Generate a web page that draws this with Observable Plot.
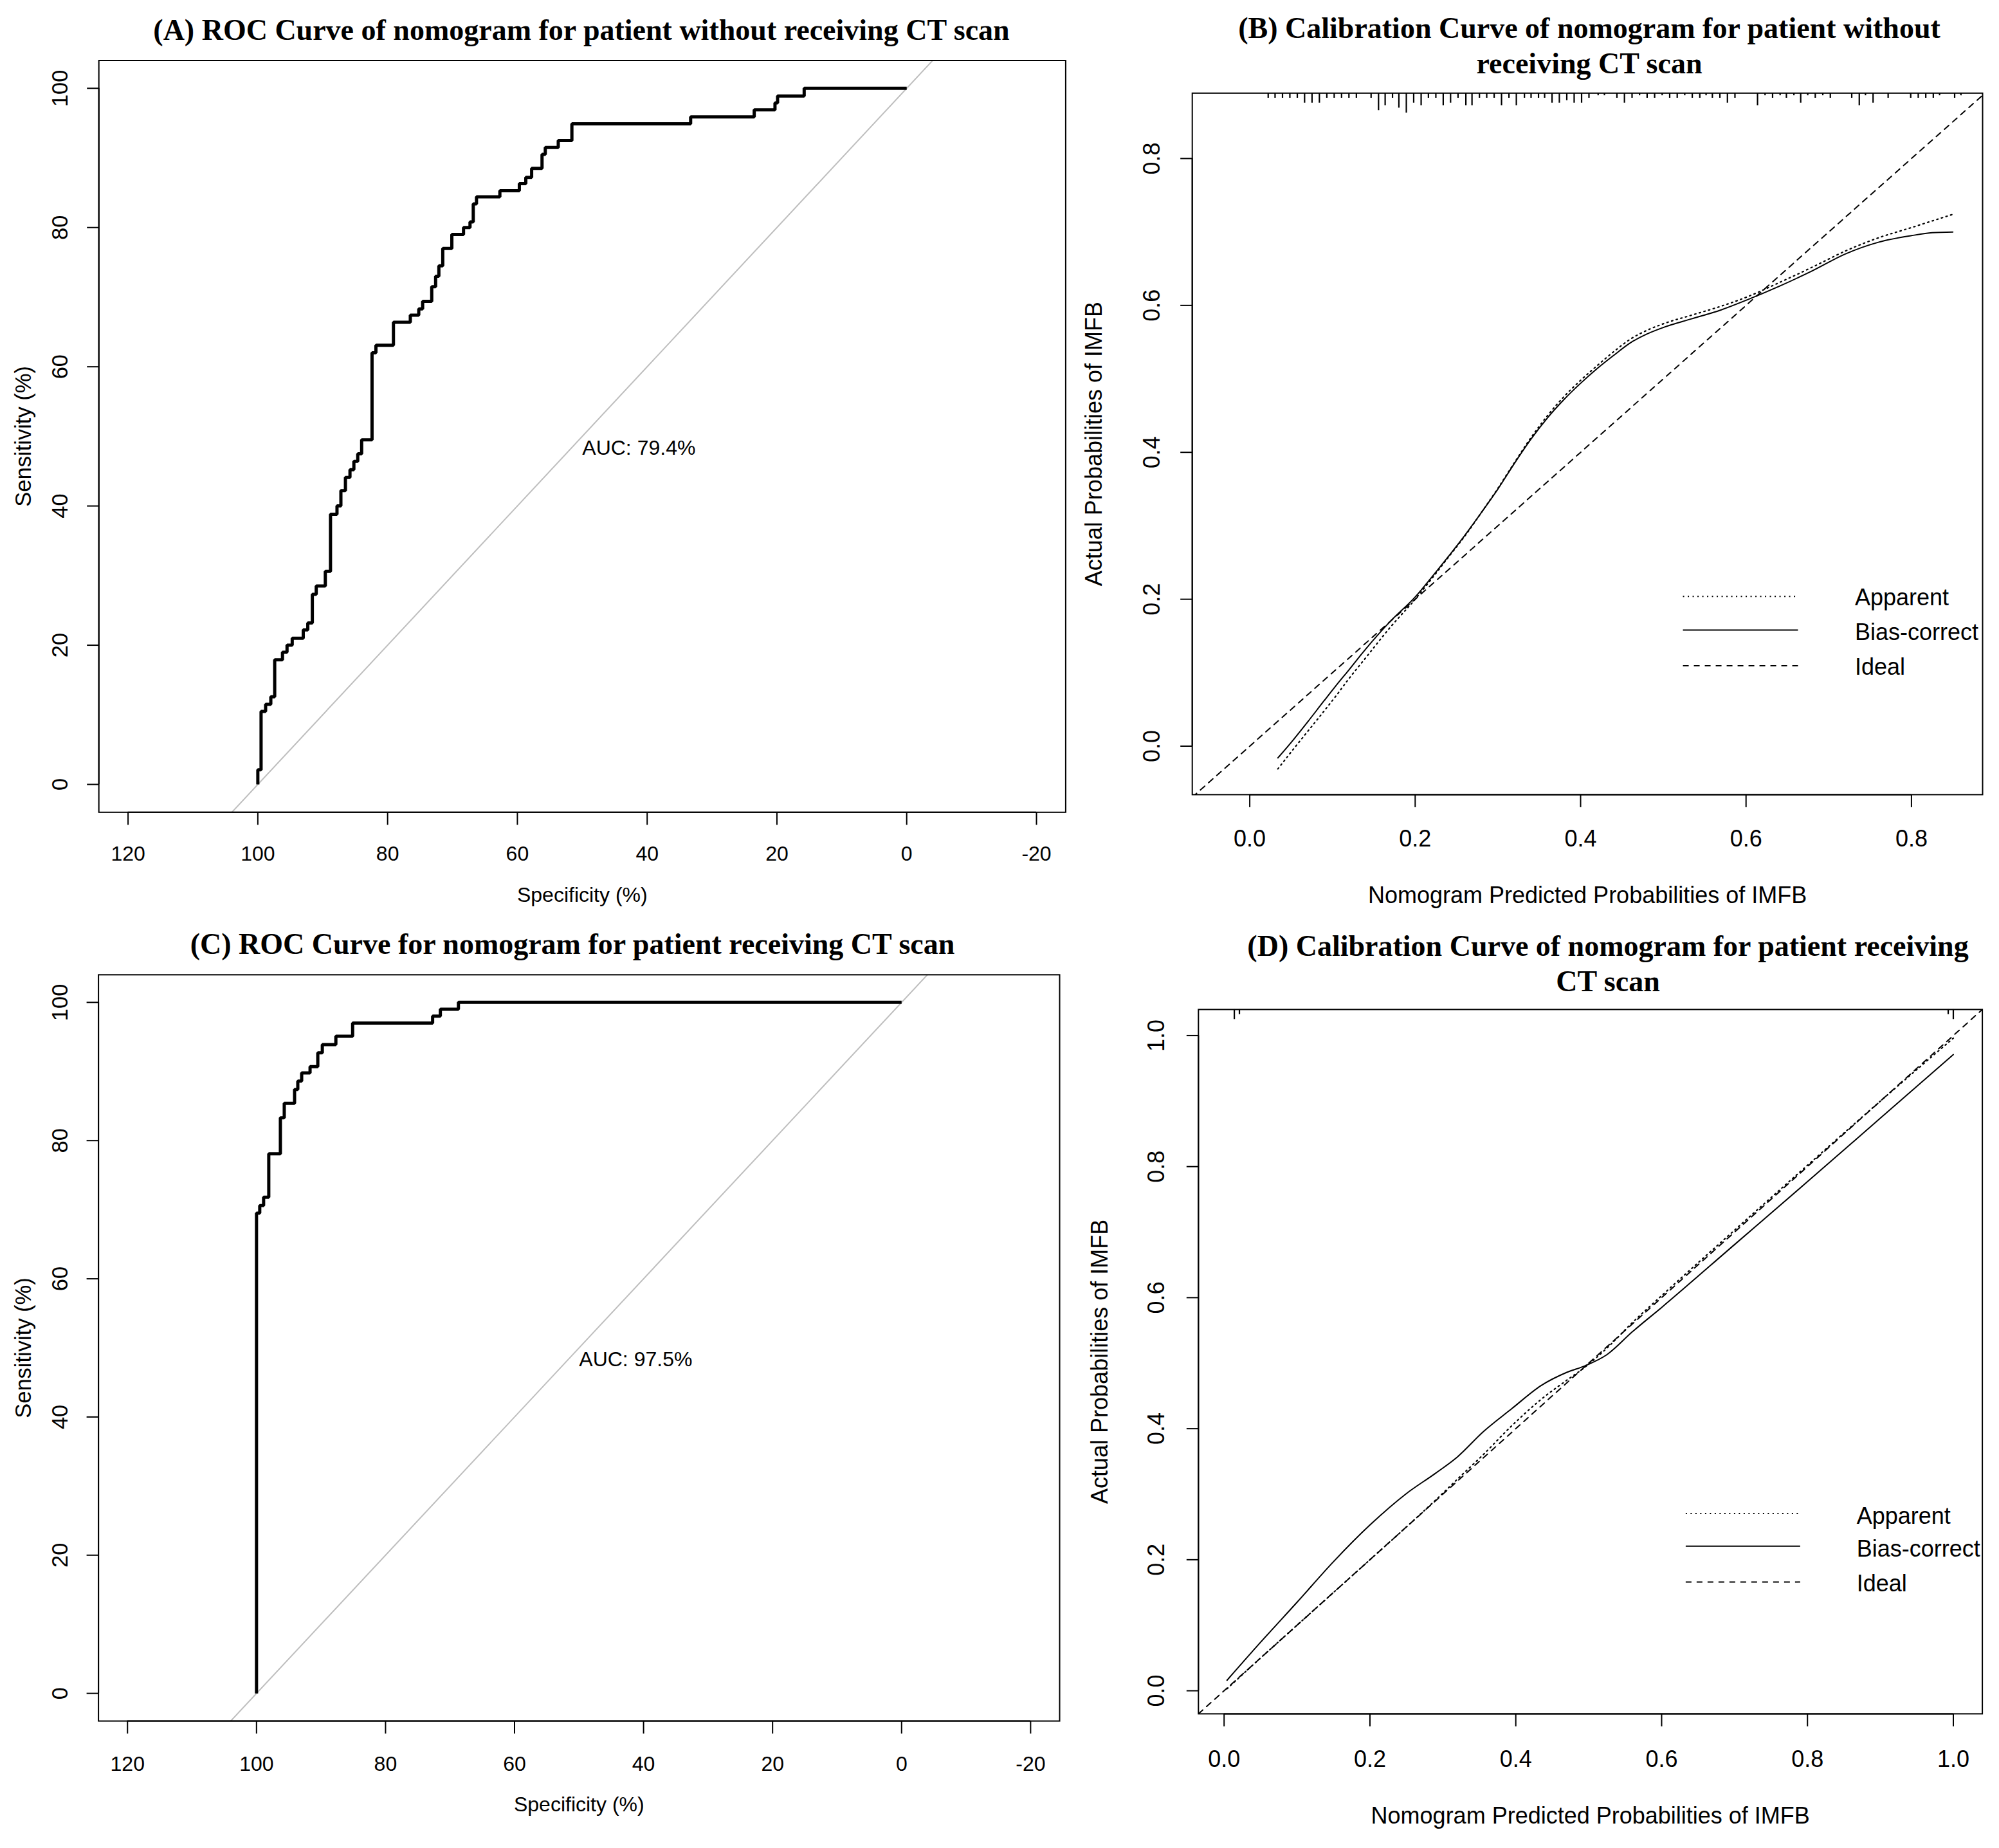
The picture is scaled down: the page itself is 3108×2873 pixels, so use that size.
<!DOCTYPE html>
<html><head><meta charset="utf-8">
<script src="https://cdn.jsdelivr.net/npm/d3@7"></script>
<script src="https://cdn.jsdelivr.net/npm/@observablehq/plot@0.6"></script>
<style>
html,body{margin:0;padding:0;background:#fff;}
#root{position:relative;width:3108px;height:2873px;background:#fff;overflow:hidden;}
.panel{position:absolute;}
.title{position:absolute;width:1700px;font-family:"Liberation Serif","Times New Roman",serif;font-weight:bold;font-size:46px;line-height:55px;text-align:center;color:#000;white-space:nowrap;}
</style></head><body><div id="root"></div><script>
// ---------- data ----------
const titleA = "(A) ROC Curve of nomogram for patient without receiving CT scan";
const titleB = ["(B) Calibration Curve of nomogram for patient without", "receiving CT scan"];
const titleC = "(C) ROC Curve for nomogram for patient receiving CT scan";
const titleD = ["(D) Calibration Curve of nomogram for patient receiving", "CT scan"];
const rocXLabel = "Specificity (%)";
const rocYLabel = "Sensitivity (%)";
const calXLabel = "Nomogram Predicted Probabilities of IMFB";
const calYLabel = "Actual Probabilities of IMFB";
const legendLabels = ["Apparent", "Bias-correct", "Ideal"];
const aucA = "AUC: 79.4%";
const aucC = "AUC: 97.5%";

const rocXTicks = [120, 100, 80, 60, 40, 20, 0, -20];
const rocYTicks = [0, 20, 40, 60, 80, 100];
const calBTicks = [0, 0.2, 0.4, 0.6, 0.8];
const calDTicks = [0, 0.2, 0.4, 0.6, 0.8, 1.0];

// ROC (A): specificity at each vertical step, sensitivity at top of that step
const rocASpec = [100, 100, 99.5, 98.8, 98.0, 97.4, 96.2, 95.5, 94.7, 93.0, 92.3, 91.6, 91.0, 89.6, 88.8, 87.8, 87.2, 86.5, 85.8, 85.2, 84.6, 84.0, 82.4, 81.8, 79.1, 76.5, 75.2, 74.6, 73.2, 72.6, 72.1, 71.5, 70.1, 68.3, 67.3, 66.8, 66.3, 62.7, 59.7, 58.7, 57.8, 56.2, 55.7, 53.7, 51.6, 33.3, 23.5, 20.3, 19.9, 15.8, 0];
const rocASens = [0, 2.1, 10.5, 11.5, 12.6, 17.9, 19.0, 20.0, 21.0, 22.2, 23.2, 27.3, 28.5, 30.6, 38.8, 40.0, 42.2, 44.1, 45.2, 46.4, 47.5, 49.5, 62.0, 63.1, 66.4, 67.4, 68.3, 69.4, 71.5, 73.0, 74.5, 77.0, 79.0, 80.0, 80.8, 83.4, 84.4, 85.3, 86.3, 87.2, 88.5, 90.5, 91.5, 92.5, 94.9, 95.9, 96.9, 97.9, 98.9, 100, 100];

// ROC (C)
const rocCSpec = [100, 100, 99.5, 98.9, 98.1, 96.3, 95.7, 94.1, 93.6, 93.0, 91.7, 90.5, 89.8, 87.7, 85.1, 72.7, 71.5, 68.7, 0];
const rocCSens = [0, 69.5, 70.6, 71.8, 78.1, 83.3, 85.4, 87.4, 88.6, 89.8, 90.7, 92.7, 93.9, 95.1, 97.0, 98.0, 99.0, 100, 100];

// Calibration (B)
const calBX = [0.034, 0.05, 0.07, 0.09, 0.104, 0.12, 0.14, 0.17, 0.2, 0.22, 0.24, 0.26, 0.28, 0.3, 0.32, 0.34, 0.36, 0.38, 0.4, 0.42, 0.44, 0.46, 0.48, 0.5, 0.535, 0.57, 0.6, 0.64, 0.68, 0.72, 0.76, 0.8, 0.825, 0.85];
const calBApparent = [-0.031, -0.008, 0.02, 0.048, 0.068, 0.092, 0.12, 0.162, 0.2, 0.228, 0.257, 0.286, 0.318, 0.351, 0.386, 0.42, 0.45, 0.476, 0.498, 0.518, 0.537, 0.554, 0.566, 0.575, 0.587, 0.599, 0.611, 0.631, 0.652, 0.674, 0.692, 0.706, 0.715, 0.724];
const calBBias = [-0.016, 0.005, 0.033, 0.062, 0.082, 0.104, 0.132, 0.170, 0.203, 0.23, 0.258, 0.287, 0.318, 0.35, 0.385, 0.418, 0.447, 0.472, 0.494, 0.514, 0.532, 0.549, 0.561, 0.570, 0.582, 0.594, 0.607, 0.626, 0.647, 0.670, 0.686, 0.695, 0.699, 0.700];
const rugBX = [0.0223, 0.0306, 0.0396, 0.0485, 0.0575, 0.0663, 0.0753, 0.0842, 0.0932, 0.1021, 0.1110, 0.1199, 0.1289, 0.1467, 0.1557, 0.1637, 0.1726, 0.1803, 0.1893, 0.1982, 0.2072, 0.2160, 0.2250, 0.2339, 0.2428, 0.2518, 0.2613, 0.2687, 0.2777, 0.2865, 0.2955, 0.3044, 0.3134, 0.3223, 0.3321, 0.3401, 0.3491, 0.3565, 0.3655, 0.3743, 0.3833, 0.3922, 0.4012, 0.4101,
  0.4212, 0.4288, 0.4439, 0.4530, 0.4622, 0.4713, 0.4804, 0.4895, 0.4986, 0.5077, 0.5168, 0.5259, 0.5350, 0.5441, 0.5517, 0.5593, 0.5684, 0.5775, 0.5866, 0.6139, 0.6230, 0.6321, 0.6412, 0.6488, 0.6579, 0.6661, 0.6746, 0.6837, 0.6928, 0.7019, 0.7278, 0.7369, 0.7444, 0.7536, 0.7718, 0.7991, 0.8082, 0.8173, 0.8264, 0.8340, 0.8522, 0.8598];
const rugBN = [2, 2, 2, 2, 2, 4, 4, 4, 2, 2, 2, 2, 2, 2, 7, 5, 2, 6, 8, 4, 5, 2, 2, 5, 4, 2, 5, 5, 2, 2, 2, 5, 2, 5, 2, 2, 2, 2, 4, 4, 3, 4, 4, 2,
  1, 1, 2, 4, 2, 1, 2, 2, 1, 2, 2, 1, 2, 2, 1, 2, 2, 4, 2, 5, 1, 2, 1, 2, 1, 4, 1, 2, 1, 2, 2, 5, 1, 4, 2, 2, 2, 2, 2, 1, 2, 1];

// Calibration (D)
const calDX = [0.004, 0.05, 0.1, 0.15, 0.2, 0.25, 0.29, 0.32, 0.355, 0.395, 0.435, 0.47, 0.495, 0.525, 0.56, 0.6, 0.7, 0.8, 0.9, 1.0];
const calDApparent = [0.003, 0.05, 0.1, 0.15, 0.2, 0.25, 0.291, 0.323, 0.36, 0.405, 0.445, 0.474, 0.494, 0.523, 0.562, 0.603, 0.703, 0.802, 0.9, 0.996];
const calDBias = [0.016, 0.074, 0.135, 0.197, 0.253, 0.301, 0.332, 0.357, 0.395, 0.431, 0.466, 0.486, 0.496, 0.513, 0.548, 0.585, 0.681, 0.777, 0.874, 0.971];
const rugDX = [0.014, 0.021, 0.993, 1.0];
const rugDN = [4, 2, 2, 4];

// ---------- drawing ----------
const SANS = "'Liberation Sans', Arial, Helvetica, sans-serif";
const root = document.getElementById("root");

function place(el, left, top) {
  const d = document.createElement("div");
  d.className = "panel"; d.style.left = left + "px"; d.style.top = top + "px";
  d.appendChild(el); root.appendChild(d);
}
function title(lines, cx, top) {
  const d = document.createElement("div");
  d.className = "title";
  d.style.left = (cx - 850) + "px"; d.style.top = top + "px";
  (Array.isArray(lines) ? lines : [lines]).forEach((t, i) => {
    if (i) d.appendChild(document.createElement("br"));
    d.appendChild(document.createTextNode(t));
  });
  root.appendChild(d);
}
const last = a => a[a.length - 1];

function rocPlot(c) {
  const pts = c.spec.map((s, i) => ({spec: s, sens: c.sens[i]}));
  const xd = [124.5, -24.5], yd = [-4, 104];
  const fs = 32, fsv = 34.5;
  return Plot.plot({
    width: c.w, height: c.h,
    marginLeft: c.ml, marginRight: c.mr, marginTop: c.mt, marginBottom: c.mb,
    x: {domain: xd}, y: {domain: yd},
    style: {fontFamily: SANS, fontSize: fs + "px", color: "black", background: "none", overflow: "visible"},
    marks: [
      Plot.line(xd, {x: d => d, y: d => 100 - d, stroke: "#bebebe", strokeWidth: 2, clip: true}),
      Plot.line(pts, {x: "spec", y: "sens", curve: "step-after", stroke: "black", strokeWidth: 5, strokeLinejoin: "miter", strokeLinecap: "butt"}),
      Plot.text([c.auc], {x: 50, y: 50, text: d => d, textAnchor: "start", lineAnchor: "top", dy: 6, fontSize: fs, fill: "black"}),
      Plot.frame({stroke: "black", strokeWidth: 2}),
      Plot.ruleY([yd[0]], {x1: rocXTicks[0], x2: last(rocXTicks), stroke: "black", strokeWidth: 2}),
      Plot.ruleX([xd[0]], {y1: rocYTicks[0], y2: last(rocYTicks), stroke: "black", strokeWidth: 2}),
      Plot.axisX(rocXTicks, {tickSize: 20, tickPadding: c.xpad, tickFormat: d => String(d), fontSize: fs, label: null, strokeWidth: 2}),
      Plot.axisY(rocYTicks, {tickSize: 18, tickPadding: c.ypad, tickRotate: -90, tickFormat: d => String(d), fontSize: fsv, label: null, strokeWidth: 2}),
      Plot.text([rocXLabel], {frameAnchor: "bottom", dy: c.xlab, text: d => d, textAnchor: "middle", lineAnchor: "middle", fontSize: fs}),
      Plot.text([rocYLabel], {frameAnchor: "left", dx: c.ylab, rotate: -90, text: d => d, textAnchor: "middle", lineAnchor: "middle", fontSize: fsv})
    ]
  });
}

function calPlot(c) {
  const app = c.x.map((x, i) => ({x, y: c.app[i]}));
  const bias = c.x.map((x, i) => ({x, y: c.bias[i]}));
  const rug = c.rugX.map((x, i) => ({x, n: c.rugN[i]}));
  const fh = c.h - c.mt - c.mb;
  const unit = 3.85 * (c.yd[1] - c.yd[0]) / fh;
  const top = c.yd[1];
  const lo = Math.min(c.xd[0], c.yd[0]), hi = Math.max(c.xd[1], c.yd[1]);
  const fs = 36;
  const L = c.leg;
  const dashes = ["2,5.5", null, "9,8"];
  const legendMarks = [];
  legendLabels.forEach((lab, i) => {
    legendMarks.push(Plot.link([lab], {x1: L.x1, x2: L.x2, y1: L.ly[i], y2: L.ly[i], stroke: "black", strokeWidth: 2, strokeDasharray: dashes[i] || undefined}));
    legendMarks.push(Plot.text([lab], {x: L.tx, y: L.ty[i], text: d => d, textAnchor: "start", lineAnchor: "middle", fontSize: fs}));
  });
  return Plot.plot({
    width: c.w, height: c.h,
    marginLeft: c.ml, marginRight: c.mr, marginTop: c.mt, marginBottom: c.mb,
    x: {domain: c.xd}, y: {domain: c.yd},
    style: {fontFamily: SANS, fontSize: fs + "px", color: "black", background: "none", overflow: "visible"},
    marks: [
      Plot.line([lo, hi], {x: d => d, y: d => d, stroke: "black", strokeWidth: 2, strokeDasharray: "9,8", clip: true}),
      Plot.line(app, {x: "x", y: "y", curve: "monotone-x", stroke: "black", strokeWidth: 2.2, strokeDasharray: "2,5.5"}),
      Plot.line(bias, {x: "x", y: "y", curve: "monotone-x", stroke: "black", strokeWidth: 2}),
      Plot.ruleX(rug, {x: "x", y1: top, y2: d => top - d.n * unit, stroke: "black", strokeWidth: 2.2}),
      ...legendMarks,
      Plot.frame({stroke: "black", strokeWidth: 2}),
      Plot.ruleY([c.yd[0]], {x1: c.ticks[0], x2: last(c.ticks), stroke: "black", strokeWidth: 2}),
      Plot.ruleX([c.xd[0]], {y1: c.ticks[0], y2: last(c.ticks), stroke: "black", strokeWidth: 2}),
      Plot.axisX(c.ticks, {tickSize: 20, tickPadding: c.xpad, tickFormat: d => d.toFixed(1), fontSize: fs, label: null, strokeWidth: 2}),
      Plot.axisY(c.ticks, {tickSize: 18, tickPadding: c.ypad, tickRotate: -90, tickFormat: d => d.toFixed(1), fontSize: fs, label: null, strokeWidth: 2}),
      Plot.text([calXLabel], {frameAnchor: "bottom", dy: c.xlab, text: d => d, textAnchor: "middle", lineAnchor: "middle", fontSize: fs}),
      Plot.text([calYLabel], {frameAnchor: "left", dx: c.ylab, rotate: -90, text: d => d, textAnchor: "middle", lineAnchor: "middle", fontSize: fs})
    ]
  });
}

// Panel A
place(rocPlot({spec: rocASpec, sens: rocASens, auc: aucA, w: 1680, h: 1360, ml: 153.2, mr: 23.6, mt: 18.5, mb: 172.7, xpad: 32, ypad: 30.5, xlab: 129, ylab: -117}), 0, 75);
// Panel C
place(rocPlot({spec: rocCSpec, sens: rocCSens, auc: aucC, w: 1680, h: 1378, ml: 152.6, mr: 33, mt: 19.9, mb: 197.9, xpad: 34.5, ypad: 30, xlab: 130, ylab: -116}), 0, 1495);
// Panel B
place(calPlot({x: calBX, app: calBApparent, bias: calBBias, rugX: rugBX, rugN: rugBN, ticks: calBTicks,
  xd: [-0.0695, 0.886], yd: [-0.066, 0.889], w: 1443, h: 1310, ml: 188.2, mr: 26, mt: 19.3, mb: 200.1,
  xpad: 34.7, ypad: 33, xlab: 157, ylab: -152,
  leg: {x1: 0.5237, x2: 0.6628, ly: [0.2039, 0.158, 0.1095], tx: 0.7316, ty: [0.2015, 0.155, 0.107]}}), 1665, 125);
// Panel D
place(calPlot({x: calDX, app: calDApparent, bias: calDBias, rugX: rugDX, rugN: rugDN, ticks: calDTicks,
  xd: [-0.0352, 1.0398], yd: [-0.0352, 1.0398], w: 1443, h: 1328, ml: 197.8, mr: 26.4, mt: 23.9, mb: 209.1,
  xpad: 37, ypad: 35, xlab: 159, ylab: -153,
  leg: {x1: 0.633, x2: 0.790, ly: [0.2706, 0.2206, 0.166], tx: 0.8675, ty: [0.2665, 0.2165, 0.1635]}}), 1665, 1545);

title(titleA, 904, 19);
title(titleB, 2471, 16);
title(titleC, 890, 1440);
title(titleD, 2500, 1443);
</script></body></html>
